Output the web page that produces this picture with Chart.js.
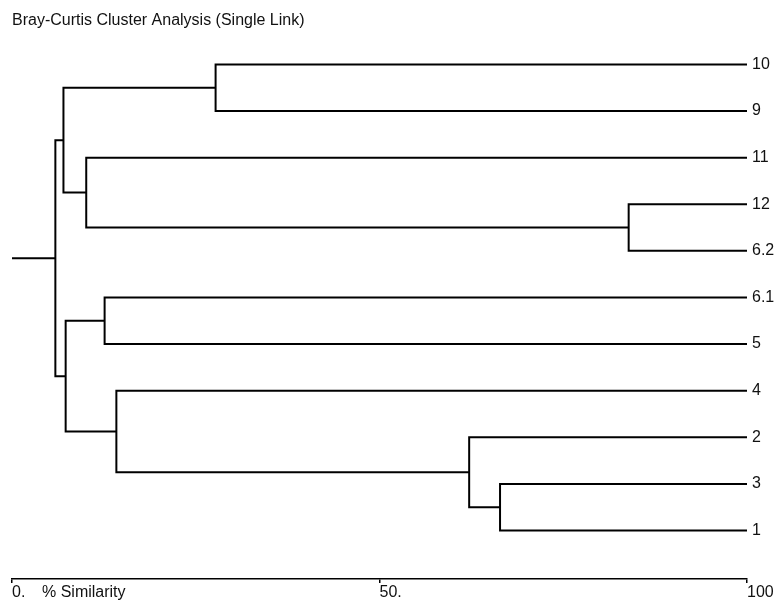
<!DOCTYPE html>
<html>
<head>
<meta charset="utf-8">
<title>Bray-Curtis Cluster Analysis</title>
<script src="https://cdn.jsdelivr.net/npm/chart.js@4/dist/chart.umd.min.js"></script>
<style>
    html, body { margin: 0; padding: 0; background: #fff; }
    #wrap { width: 780px; height: 606px; position: relative; }
</style>
</head>
<body>
<div id="wrap"><canvas id="dendro"></canvas></div>
<script>
// leaves, top to bottom
const leafLabels = ['10', '9', '11', '12', '6.2', '6.1', '5', '4', '2', '3', '1'];
// merges: children are leaf indices (0-10) or earlier merge nodes (11+)
const mergeA = [0, 3, 2, 11, 5, 9, 8, 7, 15, 14];
const mergeB = [1, 4, 12, 13, 6, 10, 16, 17, 18, 19];
const mergeSimilarity = [27.7, 83.9, 10.1, 7.0, 12.6, 66.4, 62.2, 14.2, 7.3, 5.9];
const xTickValues = [0, 50, 100];
const xTickLabels = ['0.', '50.', '100'];
const titleText = 'Bray-Curtis Cluster Analysis (Single Link)';
const axisText = '% Similarity';

Chart.defaults.font.family = '"Liberation Sans", Arial, sans-serif';
Chart.defaults.font.size = 16;
Chart.defaults.color = '#111';

// build the dendrogram paths
const nodeX = leafLabels.map(() => 100);
const nodeY = leafLabels.map((_, i) => i);
const datasets = [];
mergeA.forEach((a, k) => {
    const b = mergeB[k];
    const s = mergeSimilarity[k];
    nodeX.push(s);
    nodeY.push((nodeY[a] + nodeY[b]) / 2);
    datasets.push({
        data: [
            { x: nodeX[a], y: nodeY[a] },
            { x: s, y: nodeY[a] },
            { x: s, y: nodeY[b] },
            { x: nodeX[b], y: nodeY[b] }
        ]
    });
});
const root = nodeX.length - 1;
datasets.push({ data: [{ x: 0, y: nodeY[root] }, { x: nodeX[root], y: nodeY[root] }] });
datasets.forEach(d => Object.assign(d, {
    showLine: true,
    borderColor: '#000',
    borderWidth: 2,
    pointRadius: 0,
    tension: 0,
    fill: false
}));

const axisTitlePlugin = {
    id: 'axisTitle',
    afterDraw(chart) {
        const xs = chart.scales.x;
        const ctx = chart.ctx;
        ctx.save();
        ctx.font = '16px "Liberation Sans", Arial, sans-serif';
        ctx.fillStyle = '#111';
        ctx.textAlign = 'left';
        ctx.textBaseline = 'middle';
        ctx.fillText(axisText, xs.getPixelForValue(0) + 30, xs.top + 4 + 9.6);
        ctx.restore();
    }
};

new Chart(document.getElementById('dendro'), {
    type: 'scatter',
    data: { datasets },
    plugins: [axisTitlePlugin],
    options: {
        responsive: true,
        maintainAspectRatio: false,
        animation: false,
        layout: { padding: { left: 12, right: 0, top: 0, bottom: 0 } },
        plugins: {
            legend: { display: false },
            tooltip: { enabled: false },
            title: {
                display: true,
                text: titleText,
                align: 'start',
                color: '#111',
                font: { size: 16, weight: 'normal' },
                padding: { top: 11, bottom: 10 }
            }
        },
        scales: {
            x: {
                type: 'linear',
                position: 'bottom',
                min: 0,
                max: 100,
                afterBuildTicks: s => { s.ticks = xTickValues.map(v => ({ value: v })); },
                afterFit: s => { s.height = 27; },
                ticks: {
                    align: 'start',
                    padding: 0,
                    autoSkip: false,
                    maxRotation: 0,
                    callback: v => xTickLabels[xTickValues.indexOf(v)]
                },
                grid: { drawOnChartArea: false, drawTicks: true, tickLength: 4, color: '#000', lineWidth: 1.5 },
                border: { display: true, color: '#000', width: 1.5 }
            },
            y: {
                type: 'linear',
                position: 'right',
                reverse: true,
                min: -0.52,
                max: 11.04,
                afterBuildTicks: s => { s.ticks = leafLabels.map((_, i) => ({ value: i })); },
                afterFit: s => { s.width = 33; },
                ticks: {
                    autoSkip: false,
                    padding: 5,
                    callback: v => leafLabels[v]
                },
                grid: { display: false, drawTicks: false },
                border: { display: false }
            }
        }
    }
});
</script>
</body>
</html>
